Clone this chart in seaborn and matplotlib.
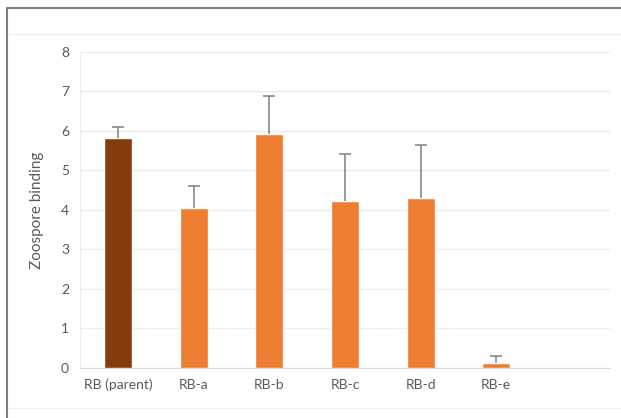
import pandas as pd
import numpy as np
import matplotlib.pyplot as plt
import seaborn as sns
from matplotlib.lines import Line2D

# values
strains = ["RB (parent)", "RB-a", "RB-b", "RB-c", "RB-d", "RB-e"]
binding = [5.82, 4.04, 5.92, 4.23, 4.31, 0.13]
binding_err = [0.28, 0.57, 0.96, 1.19, 1.32, 0.17]
bar_colors = ["#843C0C", "#ED7D31", "#ED7D31", "#ED7D31", "#ED7D31", "#ED7D31"]

df = pd.DataFrame({"strain": strains, "binding": binding})

sns.set_style("white")
plt.rcParams["font.family"] = ["Lato", "DejaVu Sans"]
txt = "#595959"

fig = plt.figure(figsize=(6.21, 4.18), dpi=100)
ax = fig.add_axes([0.129, 0.12, 0.853, 0.756])

sns.barplot(data=df, x="strain", y="binding", hue="strain", palette=bar_colors,
            saturation=1, width=0.37, legend=False, ax=ax, zorder=3)
eb = ax.errorbar(np.arange(len(strains)), binding, yerr=[np.zeros(len(strains)), binding_err],
                 fmt="none", ecolor="#7f7f7f", elinewidth=1.1, capsize=4, capthick=1.1, zorder=4)
eb[1][0].set_visible(False)  # only the upper cap

ax.set_xlim(-0.5, 6.5)
ax.set_ylim(0, 8)
ax.set_yticks(range(0, 9))
ax.yaxis.grid(True, color="#ececec", linewidth=1, zorder=0)
ax.set_xlabel("")
ax.set_ylabel("Zoospore binding", fontsize=11, color=txt, labelpad=12)
ax.tick_params(axis="both", length=0, labelsize=10, colors=txt, pad=8)
for side in ["top", "right"]:
    ax.spines[side].set_visible(False)
ax.spines["left"].set_color("#eeeeee")
ax.spines["bottom"].set_color("#d9d9d9")

# outer frame of the chart
fig.add_artist(Line2D([7 / 621, 7 / 621], [0, 1 - 8 / 418], color="#808080", lw=1.5))
fig.add_artist(Line2D([7 / 621, 1], [1 - 8 / 418, 1 - 8 / 418], color="#808080", lw=1.5))
fig.add_artist(Line2D([8 / 621, 1], [1 - 34 / 418, 1 - 34 / 418], color="#f0f0f0", lw=1))
fig.add_artist(Line2D([8 / 621, 1], [1 - 408 / 418, 1 - 408 / 418], color="#f0f0f0", lw=1))

fig.savefig("out.png", dpi=100)
